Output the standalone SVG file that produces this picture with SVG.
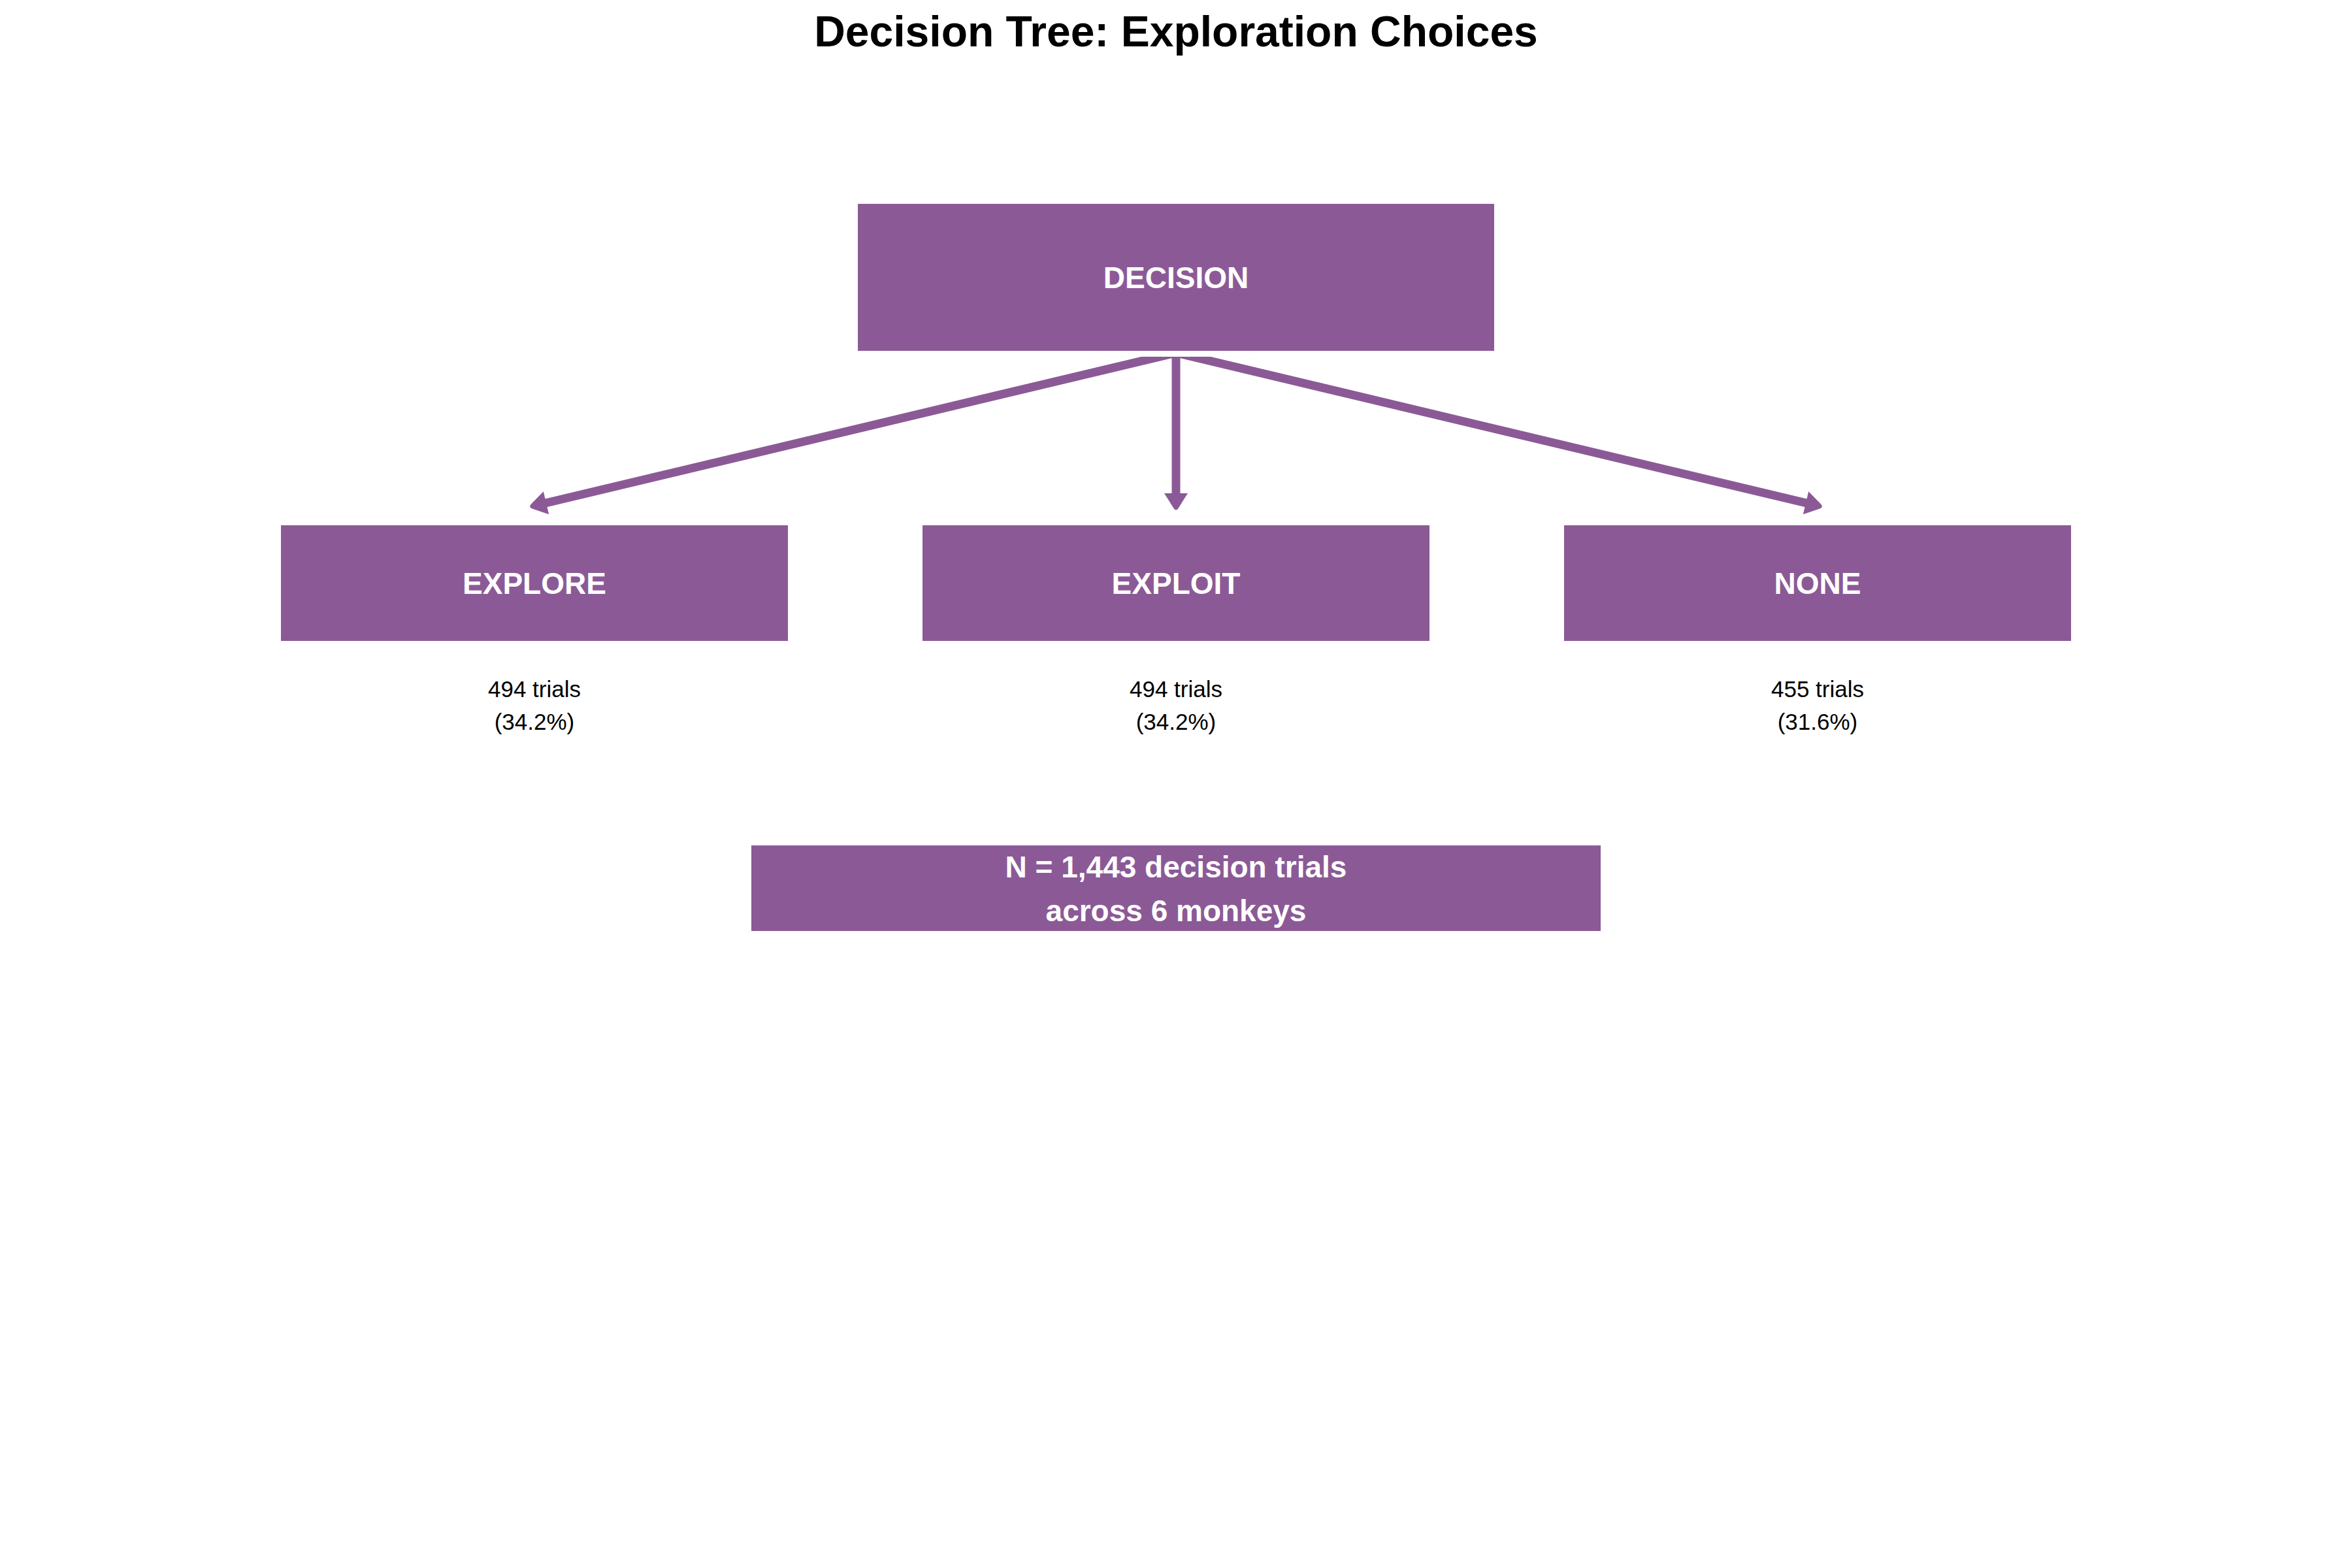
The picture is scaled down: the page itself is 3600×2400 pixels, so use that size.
<svg xmlns="http://www.w3.org/2000/svg" width="3600" height="2400" viewBox="0 0 3600 2400">
  <style>
    .box { fill: #8B5A96; }
    .lbl { font-family: "Liberation Sans", Arial, Helvetica, sans-serif; font-weight: bold; font-size: 46px; fill: #ffffff; text-anchor: middle; }
    .cnt { font-family: "Liberation Sans", Arial, Helvetica, sans-serif; font-size: 35px; fill: #000000; text-anchor: middle; }
    .title { font-family: "Liberation Sans", Arial, Helvetica, sans-serif; font-weight: bold; font-size: 66px; fill: #000000; text-anchor: middle; }
    .edge { stroke: #8B5A96; stroke-width: 13; fill: none; marker-end: url(#head); }
  </style>
  <defs>
    <marker id="head" viewBox="-2 -20 34 40" markerUnits="userSpaceOnUse" markerWidth="34" markerHeight="40" refX="0" refY="0" orient="auto">
      <path d="M-1,-18 L22,-3.5 Q27,0 22,3.5 L-1,18 Z" fill="#8B5A96"/>
    </marker>
    <clipPath id="below">
      <rect x="0" y="546" width="3600" height="1854"/>
    </clipPath>
  </defs>
  <rect width="3600" height="2400" fill="#ffffff"/>

  <text class="title" x="1800" y="71">Decision Tree: Exploration Choices</text>

  <g id="connectors" clip-path="url(#below)">
    <line class="edge" x1="1800" y1="540" x2="835" y2="770"/>
    <line class="edge" x1="1800" y1="540" x2="1800" y2="756"/>
    <line class="edge" x1="1800" y1="540" x2="2765" y2="770"/>
  </g>

  <g id="node-decision">
    <rect class="box" x="1313" y="312" width="974" height="225"/>
    <text class="lbl" x="1800" y="441">DECISION</text>
  </g>

  <g id="node-explore">
    <rect class="box" x="430" y="804" width="776" height="177"/>
    <text class="lbl" x="818" y="909">EXPLORE</text>
    <text class="cnt" x="818" y="1067">494 trials</text>
    <text class="cnt" x="818" y="1117">(34.2%)</text>
  </g>

  <g id="node-exploit">
    <rect class="box" x="1412" y="804" width="776" height="177"/>
    <text class="lbl" x="1800" y="909">EXPLOIT</text>
    <text class="cnt" x="1800" y="1067">494 trials</text>
    <text class="cnt" x="1800" y="1117">(34.2%)</text>
  </g>

  <g id="node-none">
    <rect class="box" x="2394" y="804" width="776" height="177"/>
    <text class="lbl" x="2782" y="909">NONE</text>
    <text class="cnt" x="2782" y="1067">455 trials</text>
    <text class="cnt" x="2782" y="1117">(31.6%)</text>
  </g>

  <g id="node-summary">
    <rect class="box" x="1150" y="1294" width="1300" height="131"/>
    <text class="lbl" x="1800" y="1343">N = 1,443 decision trials</text>
    <text class="lbl" x="1800" y="1410">across 6 monkeys</text>
  </g>
</svg>
